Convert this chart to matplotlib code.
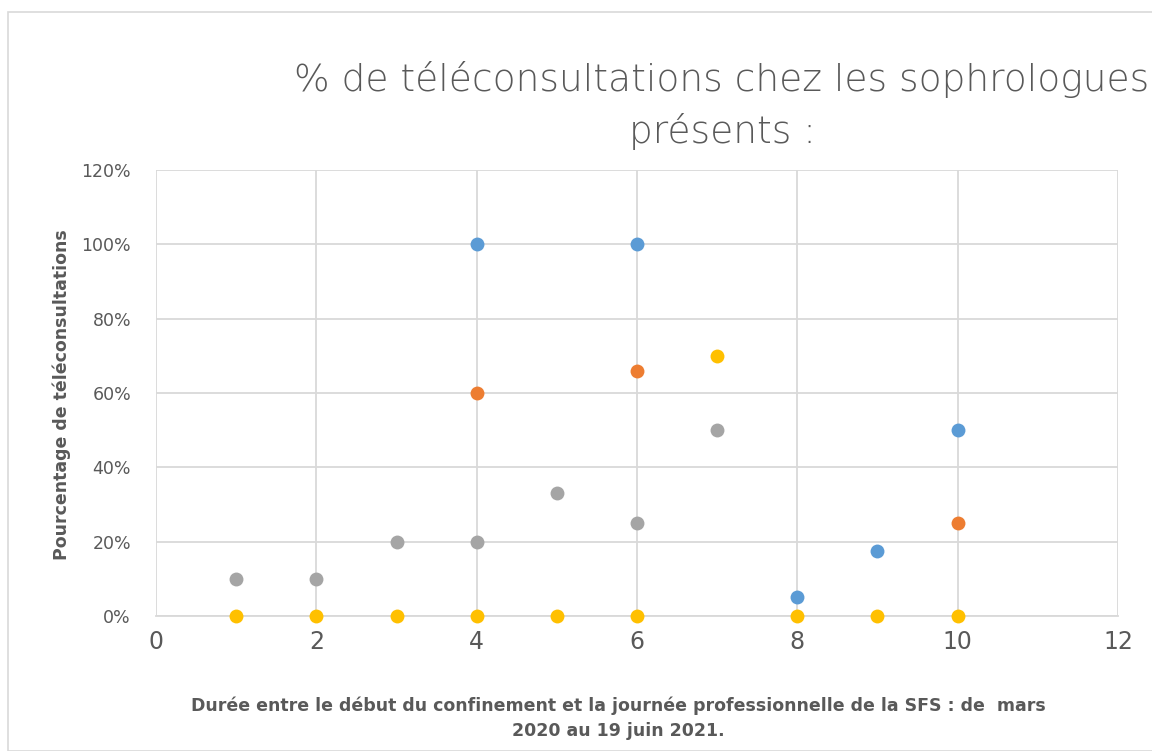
import matplotlib
matplotlib.use("Agg")
import matplotlib.pyplot as plt
import numpy as np
from matplotlib.patches import Rectangle
from matplotlib.ticker import PercentFormatter

nan = np.nan
x = [1, 2, 3, 4, 5, 6, 7, 8, 9, 10]
series_blue = [nan, nan, nan, 100, nan, 100, nan, 5, 17.5, 50]
series_orange = [nan, nan, nan, 60, nan, 66, nan, nan, nan, 25]
series_gray = [10, 10, 20, 20, 33, 25, 50, nan, nan, nan]
series_yellow = [0, 0, 0, 0, 0, 0, 70, 0, 0, 0]

title = "% de téléconsultations chez les sophrologues\nprésents :"
xlabel = "Durée entre le début du confinement et la journée professionnelle de la SFS : de  mars\n2020 au 19 juin 2021."
ylabel = "Pourcentage de téléconsultations"

W, H = 1152, 751
fig = plt.figure(figsize=(W / 100, H / 100), dpi=100)
fig.patch.set_facecolor("white")
fig.patches.append(Rectangle((8 / W, 0), 1.2, 1 - 12 / H, transform=fig.transFigure,
                             fill=False, edgecolor="#d9d9d9", linewidth=1.2))

ax = fig.add_axes([156 / W, 1 - 616 / H, (1118 - 156) / W, (616 - 170) / H])
ax.set_facecolor("none")
for s, c in [(series_blue, "#5b9bd5"), (series_orange, "#ed7d31"),
             (series_gray, "#a5a5a5"), (series_yellow, "#ffc000")]:
    ax.scatter(x, s, s=100, color=c, zorder=3, linewidths=0, clip_on=False)

ax.set_xlim(0, 12)
ax.set_ylim(0, 120)
ax.set_xticks(range(0, 13, 2))
ax.set_yticks(range(0, 121, 20))
ax.yaxis.set_major_formatter(PercentFormatter(decimals=0))
ax.grid(True, color="#d9d9d9", linewidth=1.3)
ax.set_axisbelow(True)
for side in ["top", "right", "left"]:
    ax.spines[side].set_visible(False)
ax.spines["bottom"].set_color("#d9d9d9")
ax.spines["bottom"].set_linewidth(1.3)
ax.tick_params(axis="both", length=0)
ax.tick_params(axis="x", labelsize=17, labelcolor="#595959", pad=10)
ax.tick_params(axis="y", labelsize=12.5, labelcolor="#595959", pad=18)

fig.text(722 / W, 1 - 106 / H, title, ha="center", va="center", fontsize=27,
         color="#595959", linespacing=1.5, fontfamily="DejaVu Sans", fontweight="light")
fig.text(618 / W, 1 - 718 / H, xlabel, ha="center", va="center", fontsize=12.5,
         color="#595959", fontweight="bold", linespacing=1.5)
fig.text(62 / W, 1 - 395 / H, ylabel, ha="center", va="center", rotation=90,
         fontsize=12.5, color="#595959", fontweight="bold")

fig.savefig("out.png", dpi=100)
